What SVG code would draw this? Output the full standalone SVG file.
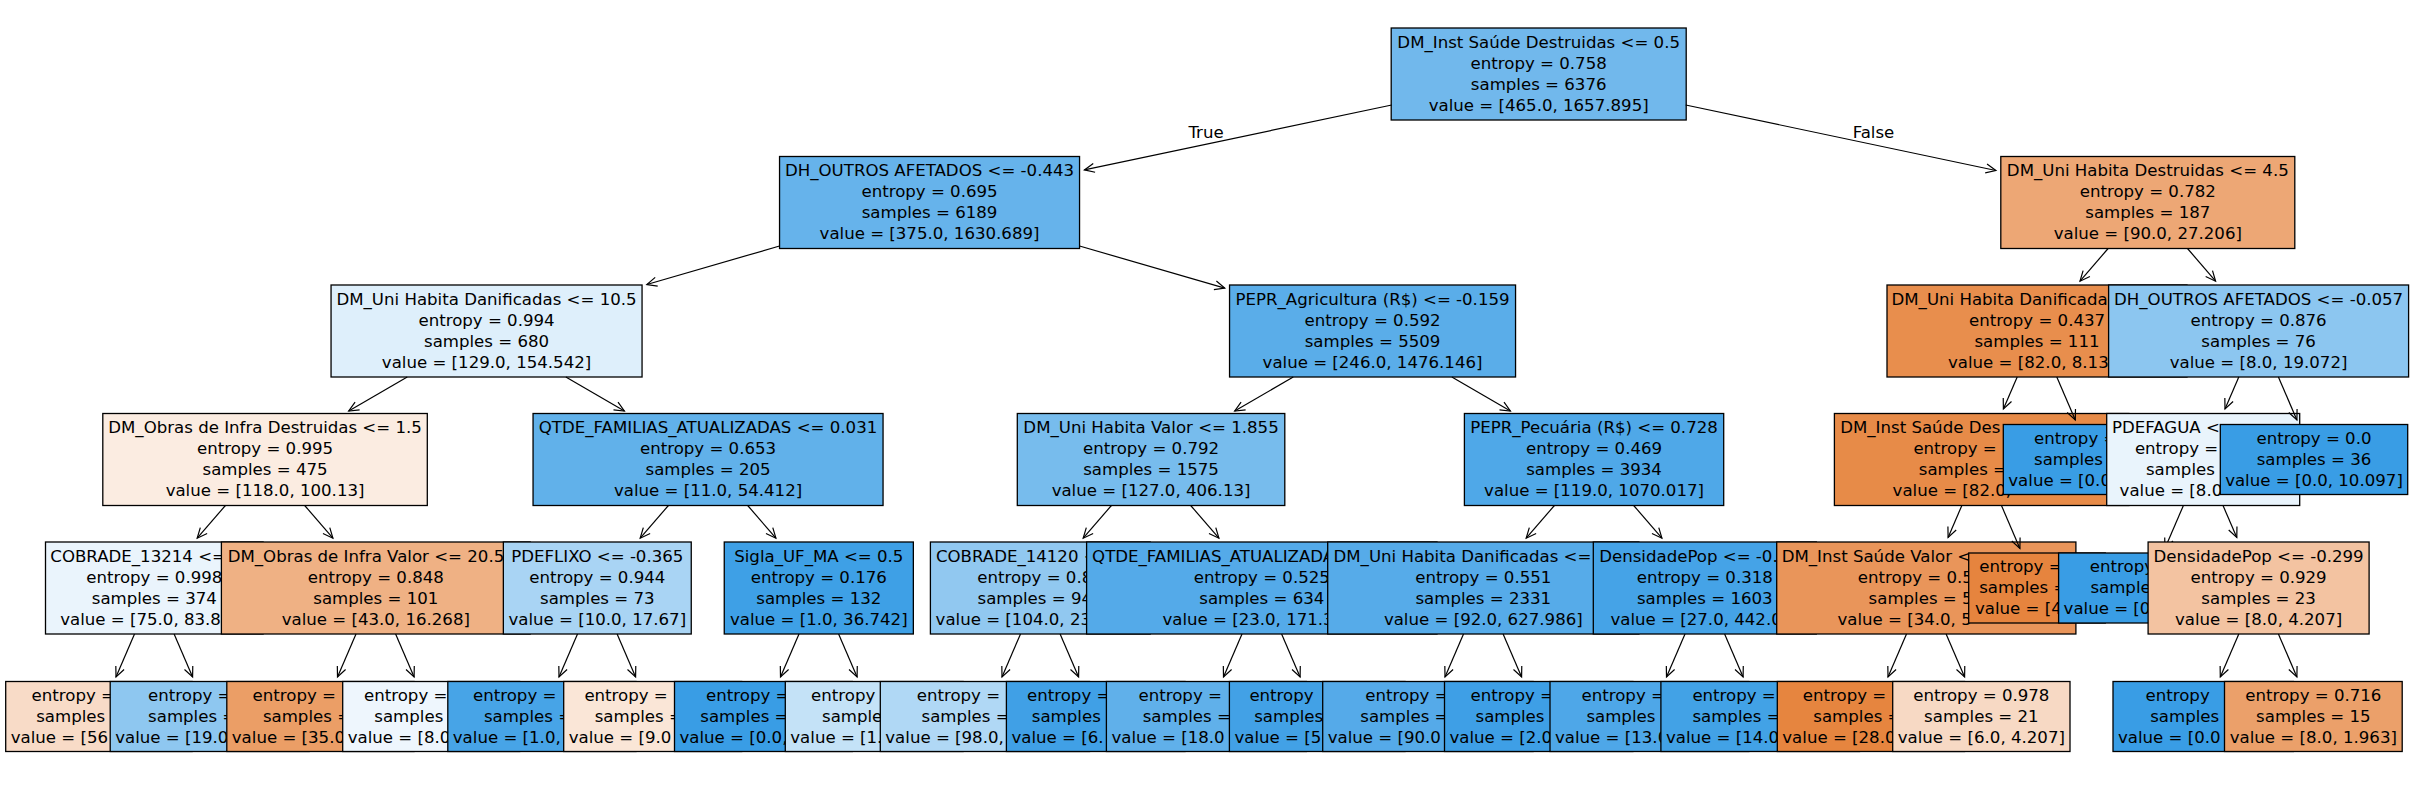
<svg xmlns="http://www.w3.org/2000/svg" width="2412" height="790" viewBox="0 0 2412 790">
<style>
text{font-family:"DejaVu Sans","Liberation Sans",sans-serif;font-size:16.6px;fill:#000}
.m{text-anchor:middle}
.s{text-anchor:start}
.b rect{stroke:#000;stroke-width:1.3}
.e{stroke:#000;stroke-width:1.2;fill:none;marker-end:url(#ah)}
</style>
<defs>
<marker id="ah" markerUnits="userSpaceOnUse" viewBox="-12 -7 14 14" markerWidth="14" markerHeight="14" refX="0" refY="0" orient="auto" overflow="visible">
<path d="M-10,-4.5 L0,0 L-10,4.5" fill="none" stroke="#000" stroke-width="1.2"/>
</marker>
<clipPath id="notT"><path clip-rule="evenodd" d="M0,0H2412V790H0Z M2148.1,542V634H2369.1V542Z"/></clipPath>
</defs>
<rect x="0" y="0" width="2412" height="790" fill="#fff"/>

<g class="b">
<g id="root"><rect x="1391.2" y="28" width="295" height="92" fill="#71b8ec"/>
<text class="m" x="1538.7" y="47.8">DM_Inst Saúde Destruidas &lt;= 0.5</text><text class="m" x="1538.7" y="68.7">entropy = 0.758</text><text class="m" x="1538.7" y="89.6">samples = 6376</text><text class="m" x="1538.7" y="110.5">value = [465.0, 1657.895]</text></g>

<g id="n1"><rect x="779.55" y="156.5" width="300" height="92" fill="#66b3eb"/>
<text class="m" x="929.55" y="176.3">DH_OUTROS AFETADOS &lt;= -0.443</text><text class="m" x="929.55" y="197.2">entropy = 0.695</text><text class="m" x="929.55" y="218.1">samples = 6189</text><text class="m" x="929.55" y="239">value = [375.0, 1630.689]</text></g>

<g id="nA"><rect x="331.05" y="285" width="311" height="92" fill="#deeffb"/>
<text class="m" x="486.55" y="304.8">DM_Uni Habita Danificadas &lt;= 10.5</text><text class="m" x="486.55" y="325.7">entropy = 0.994</text><text class="m" x="486.55" y="346.6">samples = 680</text><text class="m" x="486.55" y="367.5">value = [129.0, 154.542]</text></g>

<g id="nB"><rect x="102.8" y="413.5" width="324.5" height="92" fill="#fbece1"/>
<text class="m" x="265.05" y="433.3">DM_Obras de Infra Destruidas &lt;= 1.5</text><text class="m" x="265.05" y="454.2">entropy = 0.995</text><text class="m" x="265.05" y="475.1">samples = 475</text><text class="m" x="265.05" y="496">value = [118.0, 100.13]</text></g>

<g id="nC"><rect x="45.5" y="542" width="217.6" height="92" fill="#eaf4fc"/>
<text class="s" x="50.3" y="561.8">COBRADE_13214 &lt;=</text><text class="m" x="154.3" y="582.7">entropy = 0.998</text><text class="m" x="154.3" y="603.6">samples = 374</text><text class="s" x="60.2" y="624.5">value = [75.0, 83.8</text></g>

<g id="leaf1"><rect x="5.7" y="681.5" width="186.4" height="70" fill="#f8dbc7"/>
<text class="s" x="31.6" y="700.8">entropy =</text><text class="s" x="36.2" y="721.7">samples</text><text class="s" x="10.7" y="742.6">value = [56</text></g>
<g id="leaf2"><rect x="110.2" y="681.5" width="199" height="70" fill="#8ec7f0"/>
<text class="s" x="148.1" y="700.8">entropy =</text><text class="s" x="148.1" y="721.7">samples =</text><text class="s" x="115.2" y="742.6">value = [19.0</text></g>

<g id="nD"><rect x="221.4" y="542" width="308.8" height="92" fill="#efb184"/>
<text class="s" x="227.7" y="561.8">DM_Obras de Infra Valor &lt;= 20.5</text><text class="m" x="375.8" y="582.7">entropy = 0.848</text><text class="m" x="375.8" y="603.6">samples = 101</text><text class="m" x="375.8" y="624.5">value = [43.0, 16.268]</text></g>

<g id="leaf3"><rect x="226.8" y="681.5" width="187.2" height="70" fill="#eb9e66"/>
<text class="s" x="252.6" y="700.8">entropy =</text><text class="s" x="262.9" y="721.7">samples =</text><text class="s" x="231.8" y="742.6">value = [35.0</text></g>
<g id="leaf4"><rect x="342.7" y="681.5" width="177" height="70" fill="#eef6fd"/>
<text class="s" x="364" y="700.8">entropy =</text><text class="s" x="374.3" y="721.7">samples</text><text class="s" x="347.7" y="742.6">value = [8.0</text></g>

<g id="nE"><rect x="533.05" y="413.5" width="350" height="92" fill="#61b1ea"/>
<text class="m" x="708.05" y="433.3">QTDE_FAMILIAS_ATUALIZADAS &lt;= 0.031</text><text class="m" x="708.05" y="454.2">entropy = 0.653</text><text class="m" x="708.05" y="475.1">samples = 205</text><text class="m" x="708.05" y="496">value = [11.0, 54.412]</text></g>

<g id="nF"><rect x="503.35" y="542" width="187.9" height="92" fill="#a9d4f4"/>
<text class="m" x="597.3" y="561.8">PDEFLIXO &lt;= -0.365</text><text class="m" x="597.3" y="582.7">entropy = 0.944</text><text class="m" x="597.3" y="603.6">samples = 73</text><text class="m" x="597.3" y="624.5">value = [10.0, 17.67]</text></g>

<g id="leaf5"><rect x="447.8" y="681.5" width="188.2" height="70" fill="#47a4e7"/>
<text class="s" x="473" y="700.8">entropy =</text><text class="s" x="483.9" y="721.7">samples =</text><text class="s" x="452.8" y="742.6">value = [1.0,</text></g>
<g id="leaf6"><rect x="563.7" y="681.5" width="178" height="70" fill="#fae6d7"/>
<text class="s" x="584.4" y="700.8">entropy =</text><text class="s" x="594.7" y="721.7">samples =</text><text class="s" x="568.7" y="742.6">value = [9.0</text></g>

<g id="nG"><rect x="724.25" y="542" width="189.1" height="92" fill="#3ea0e6"/>
<text class="m" x="818.8" y="561.8">Sigla_UF_MA &lt;= 0.5</text><text class="m" x="818.8" y="582.7">entropy = 0.176</text><text class="m" x="818.8" y="603.6">samples = 132</text><text class="m" x="818.8" y="624.5">value = [1.0, 36.742]</text></g>

<g id="leaf7"><rect x="674.5" y="681.5" width="177.8" height="70" fill="#399de5"/>
<text class="s" x="706.1" y="700.8">entropy =</text><text class="s" x="700.3" y="721.7">samples =</text><text class="s" x="679.5" y="742.6">value = [0.0,</text></g>
<g id="leaf8"><rect x="785.3" y="681.5" width="177.8" height="70" fill="#c4e2f7"/>
<text class="s" x="811.1" y="700.8">entropy</text><text class="s" x="822" y="721.7">sample</text><text class="s" x="790.3" y="742.6">value = [1.</text></g>

<g id="nH"><rect x="1229.55" y="285" width="286" height="92" fill="#5aade9"/>
<text class="m" x="1372.55" y="304.8">PEPR_Agricultura (R$) &lt;= -0.159</text><text class="m" x="1372.55" y="325.7">entropy = 0.592</text><text class="m" x="1372.55" y="346.6">samples = 5509</text><text class="m" x="1372.55" y="367.5">value = [246.0, 1476.146]</text></g>

<g id="nI"><rect x="1017.3" y="413.5" width="267.5" height="92" fill="#77bced"/>
<text class="m" x="1151.05" y="433.3">DM_Uni Habita Valor &lt;= 1.855</text><text class="m" x="1151.05" y="454.2">entropy = 0.792</text><text class="m" x="1151.05" y="475.1">samples = 1575</text><text class="m" x="1151.05" y="496">value = [127.0, 406.13]</text></g>

<g id="nJ"><rect x="930.4" y="542" width="219.8" height="92" fill="#91c8f0"/>
<text class="s" x="935.9" y="561.8">COBRADE_14120 &lt;</text><text class="s" x="977.2" y="582.7">entropy = 0.8</text><text class="s" x="977.5" y="603.6">samples = 94</text><text class="s" x="935.6" y="624.5">value = [104.0, 23</text></g>

<g id="leaf9"><rect x="880.3" y="681.5" width="209.2" height="70" fill="#b0d8f5"/>
<text class="s" x="916.7" y="700.8">entropy =</text><text class="s" x="921.5" y="721.7">samples =</text><text class="s" x="885.3" y="742.6">value = [98.0,</text></g>
<g id="leaf10"><rect x="1006.4" y="681.5" width="178.6" height="70" fill="#40a0e6"/>
<text class="s" x="1027" y="700.8">entropy =</text><text class="s" x="1031.8" y="721.7">samples</text><text class="s" x="1011.4" y="742.6">value = [6.</text></g>

<g id="nK"><rect x="1086.6" y="542" width="350.4" height="92" fill="#54aae9"/>
<text class="s" x="1092.1" y="561.8">QTDE_FAMILIAS_ATUALIZADA</text><text class="m" x="1261.8" y="582.7">entropy = 0.525</text><text class="m" x="1261.8" y="603.6">samples = 634</text><text class="s" x="1162.4" y="624.5">value = [23.0, 171.3</text></g>

<g id="leaf11"><rect x="1106.4" y="681.5" width="200" height="70" fill="#60b0ea"/>
<text class="s" x="1138.5" y="700.8">entropy =</text><text class="s" x="1142.7" y="721.7">samples =</text><text class="s" x="1111.4" y="742.6">value = [18.0</text></g>
<g id="leaf12"><rect x="1229.4" y="681.5" width="175.6" height="70" fill="#42a1e6"/>
<text class="s" x="1249.4" y="700.8">entropy</text><text class="s" x="1254.2" y="721.7">samples</text><text class="s" x="1234.4" y="742.6">value = [5.</text></g>

<g id="nL"><rect x="1464.4" y="413.5" width="259.3" height="92" fill="#4fa8e8"/>
<text class="m" x="1594.05" y="433.3">PEPR_Pecuária (R$) &lt;= 0.728</text><text class="m" x="1594.05" y="454.2">entropy = 0.469</text><text class="m" x="1594.05" y="475.1">samples = 3934</text><text class="m" x="1594.05" y="496">value = [119.0, 1070.017]</text></g>

<g id="nM"><rect x="1327.7" y="542" width="311.2" height="92" fill="#56abe9"/>
<text class="s" x="1333.5" y="561.8">DM_Uni Habita Danificadas &lt;=</text><text class="m" x="1483.3" y="582.7">entropy = 0.551</text><text class="m" x="1483.3" y="603.6">samples = 2331</text><text class="m" x="1483.3" y="624.5">value = [92.0, 627.986]</text></g>

<g id="leaf13"><rect x="1322.7" y="681.5" width="210.4" height="70" fill="#55aae9"/>
<text class="s" x="1365.2" y="700.8">entropy =</text><text class="s" x="1360.3" y="721.7">samples =</text><text class="s" x="1327.7" y="742.6">value = [90.0</text></g>
<g id="leaf14"><rect x="1444.5" y="681.5" width="188.4" height="70" fill="#3e9fe6"/>
<text class="s" x="1470.6" y="700.8">entropy =</text><text class="s" x="1475.5" y="721.7">samples</text><text class="s" x="1449.5" y="742.6">value = [2.0</text></g>

<g id="nN"><rect x="1593.3" y="542" width="223" height="92" fill="#45a3e7"/>
<text class="s" x="1599.2" y="561.8">DensidadePop &lt;= -0.</text><text class="m" x="1704.8" y="582.7">entropy = 0.318</text><text class="m" x="1704.8" y="603.6">samples = 1603</text><text class="s" x="1610.5" y="624.5">value = [27.0, 442.0</text></g>

<g id="leaf15"><rect x="1550" y="681.5" width="198.8" height="70" fill="#4ea7e8"/>
<text class="s" x="1581.5" y="700.8">entropy =</text><text class="s" x="1586.4" y="721.7">samples</text><text class="s" x="1555" y="742.6">value = [13.0</text></g>
<g id="leaf16"><rect x="1660.9" y="681.5" width="198.6" height="70" fill="#42a2e6"/>
<text class="s" x="1692.4" y="700.8">entropy =</text><text class="s" x="1692.4" y="721.7">samples =</text><text class="s" x="1665.9" y="742.6">value = [14.0</text></g>

<g id="n2"><rect x="2000.8" y="156.5" width="294" height="92" fill="#eda775"/>
<text class="m" x="2147.8" y="176.3">DM_Uni Habita Destruidas &lt;= 4.5</text><text class="m" x="2147.8" y="197.2">entropy = 0.782</text><text class="m" x="2147.8" y="218.1">samples = 187</text><text class="m" x="2147.8" y="239">value = [90.0, 27.206]</text></g>

<g id="nO"><rect x="1887" y="285" width="300" height="92" fill="#e88e4d"/>
<text class="s" x="1891.5" y="304.8">DM_Uni Habita Danificada</text><text class="m" x="2037" y="325.7">entropy = 0.437</text><text class="m" x="2037" y="346.6">samples = 111</text><text class="s" x="1948" y="367.5">value = [82.0, 8.13</text></g>

<g id="nP"><rect x="1834.4" y="413.5" width="294.5" height="92" fill="#e78b48"/>
<text class="s" x="1840.2" y="433.3">DM_Inst Saúde Des</text><text class="s" x="1913.4" y="454.2">entropy =</text><text class="s" x="1918.8" y="475.1">samples =</text><text class="s" x="1892.6" y="496">value = [82.0,</text></g>

<g id="nQ"><rect x="1776.7" y="542" width="299.2" height="92" fill="#e9955a"/>
<text class="s" x="1781.7" y="561.8">DM_Inst Saúde Valor &lt;</text><text class="s" x="1857.8" y="582.7">entropy = 0.5</text><text class="s" x="1868.6" y="603.6">samples = 5</text><text class="s" x="1837.4" y="624.5">value = [34.0, 5</text></g>

<g id="leaf17"><rect x="1777.3" y="681.5" width="187.2" height="70" fill="#e6853f"/>
<text class="s" x="1802.8" y="700.8">entropy =</text><text class="s" x="1813.3" y="721.7">samples =</text><text class="s" x="1782.3" y="742.6">value = [28.0</text></g>
<g id="leaf18"><rect x="1892.7" y="681.5" width="177.3" height="70" fill="#f7d9c4"/>
<text class="m" x="1981.35" y="700.8">entropy = 0.978</text><text class="m" x="1981.35" y="721.7">samples = 21</text><text class="m" x="1981.35" y="742.6">value = [6.0, 4.207]</text></g>

<g id="leafP"><rect x="1968.7" y="553" width="136.6" height="70" fill="#e6843e"/>
<text class="s" x="1979.2" y="572.3">entropy =</text><text class="s" x="1979.2" y="593.2">samples =</text><text class="s" x="1975" y="614.1">value = [4</text></g>

<g id="leafO"><rect x="2003.3" y="424.5" width="178.2" height="70" fill="#399de5"/>
<text class="s" x="2034" y="443.8">entropy =</text><text class="s" x="2034" y="464.7">samples</text><text class="s" x="2008.3" y="485.6">value = [0.0</text></g>

<g id="nR"><rect x="2108.6" y="285" width="300" height="92" fill="#8cc6f0"/>
<text class="m" x="2258.6" y="304.8">DH_OUTROS AFETADOS &lt;= -0.057</text><text class="m" x="2258.6" y="325.7">entropy = 0.876</text><text class="m" x="2258.6" y="346.6">samples = 76</text><text class="m" x="2258.6" y="367.5">value = [8.0, 19.072]</text></g>

<g id="nS"><rect x="2106.7" y="413.5" width="193" height="92" fill="#e9f4fc"/>
<text class="s" x="2112" y="433.3">PDEFAGUA &lt;</text><text class="s" x="2134.9" y="454.2">entropy =</text><text class="s" x="2145.9" y="475.1">samples</text><text class="s" x="2119.6" y="496">value = [8.0</text></g>

<g id="leafS"><rect x="2058.6" y="553" width="178.4" height="70" fill="#399de5"/>
<text class="s" x="2089.8" y="572.3">entropy</text><text class="s" x="2090.4" y="593.2">sample</text><text class="s" x="2063.6" y="614.1">value = [0</text></g>

<g id="nT"><rect x="2148.1" y="542" width="221" height="92" fill="#f3c3a1"/>
<text class="m" x="2258.6" y="561.8">DensidadePop &lt;= -0.299</text><text class="m" x="2258.6" y="582.7">entropy = 0.929</text><text class="m" x="2258.6" y="603.6">samples = 23</text><text class="m" x="2258.6" y="624.5">value = [8.0, 4.207]</text></g>

<g id="leaf19"><rect x="2113" y="681.5" width="180.4" height="70" fill="#399de5"/>
<text class="s" x="2145.5" y="700.8">entropy</text><text class="s" x="2150.2" y="721.7">samples</text><text class="s" x="2118" y="742.6">value = [0.0</text></g>
<g id="leaf20"><rect x="2224.5" y="681.5" width="177.7" height="70" fill="#eba06a"/>
<text class="m" x="2313.35" y="700.8">entropy = 0.716</text><text class="m" x="2313.35" y="721.7">samples = 15</text><text class="m" x="2313.35" y="742.6">value = [8.0, 1.963]</text></g>

<g id="leafR"><rect x="2220.3" y="424.5" width="187.4" height="70" fill="#399de5"/>
<text class="m" x="2314" y="443.8">entropy = 0.0</text><text class="m" x="2314" y="464.7">samples = 36</text><text class="m" x="2314" y="485.6">value = [0.0, 10.097]</text></g>
</g>

<g id="connectors">
<line class="e" x1="1391.7" y1="105" x2="1084.4" y2="169.9"/>
<line class="e" x1="1685.7" y1="105" x2="1995.9" y2="170.5"/>
<line class="e" x1="779.55" y1="246" x2="646.85" y2="284.5"/>
<line class="e" x1="1079.55" y1="246" x2="1224.75" y2="288.1"/>
<line class="e" x1="2108.1" y1="248.5" x2="2080" y2="281.2"/>
<line class="e" x1="2187.5" y1="248.5" x2="2215.6" y2="281.2"/>
<line class="e" x1="407.25" y1="377" x2="348.7" y2="411"/>
<line class="e" x1="565.85" y1="377" x2="624.4" y2="411"/>
<line class="e" x1="1293.25" y1="377" x2="1234.7" y2="411"/>
<line class="e" x1="1451.85" y1="377" x2="1510.4" y2="411"/>
<line class="e" x1="2017.2" y1="377" x2="2003.4" y2="408.9"/>
<line class="e" x1="2056.8" y1="377" x2="2075.3" y2="419.9"/>
<line class="e" x1="2238.8" y1="377" x2="2225" y2="408.9"/>
<line class="e" x1="2278.4" y1="377" x2="2296.9" y2="419.9"/>
<line class="e" x1="225.4" y1="505.5" x2="197.2" y2="538.2"/>
<line class="e" x1="304.7" y1="505.5" x2="332.9" y2="538.2"/>
<line class="e" x1="668.4" y1="505.5" x2="640.2" y2="538.2"/>
<line class="e" x1="747.7" y1="505.5" x2="775.9" y2="538.2"/>
<line class="e" x1="1111.4" y1="505.5" x2="1083.2" y2="538.2"/>
<line class="e" x1="1190.7" y1="505.5" x2="1218.9" y2="538.2"/>
<line class="e" x1="1554.4" y1="505.5" x2="1526.2" y2="538.2"/>
<line class="e" x1="1633.7" y1="505.5" x2="1661.9" y2="538.2"/>
<line class="e" x1="1961.85" y1="505.5" x2="1948.1" y2="537.4"/>
<line class="e" x1="2001.45" y1="505.5" x2="2019.9" y2="548.4"/>
<g clip-path="url(#notT)"><line class="e" x1="2183.4" y1="505.5" x2="2164.9" y2="548.4"/></g>
<line class="e" x1="2223" y1="505.5" x2="2236.8" y2="537.4"/>
<line class="e" x1="134.5" y1="634" x2="116" y2="676.9"/>
<line class="e" x1="174.1" y1="634" x2="192.6" y2="676.9"/>
<line class="e" x1="356" y1="634" x2="337.5" y2="676.9"/>
<line class="e" x1="395.6" y1="634" x2="414.1" y2="676.9"/>
<line class="e" x1="577.5" y1="634" x2="559" y2="676.9"/>
<line class="e" x1="617.1" y1="634" x2="635.6" y2="676.9"/>
<line class="e" x1="799" y1="634" x2="780.5" y2="676.9"/>
<line class="e" x1="838.6" y1="634" x2="857.1" y2="676.9"/>
<line class="e" x1="1020.5" y1="634" x2="1002" y2="676.9"/>
<line class="e" x1="1060.1" y1="634" x2="1078.6" y2="676.9"/>
<line class="e" x1="1242" y1="634" x2="1223.5" y2="676.9"/>
<line class="e" x1="1281.6" y1="634" x2="1300.1" y2="676.9"/>
<line class="e" x1="1463.5" y1="634" x2="1445" y2="676.9"/>
<line class="e" x1="1503.1" y1="634" x2="1521.6" y2="676.9"/>
<line class="e" x1="1685" y1="634" x2="1666.5" y2="676.9"/>
<line class="e" x1="1724.6" y1="634" x2="1743.1" y2="676.9"/>
<line class="e" x1="1906.5" y1="634" x2="1888" y2="676.9"/>
<line class="e" x1="1946.1" y1="634" x2="1964.6" y2="676.9"/>
<line class="e" x1="2238.8" y1="634" x2="2220.3" y2="676.9"/>
<line class="e" x1="2278.4" y1="634" x2="2296.9" y2="676.9"/>
<text class="m" x="1206" y="138">True</text>
<text class="m" x="1873.5" y="138">False</text>
</g>
</svg>
